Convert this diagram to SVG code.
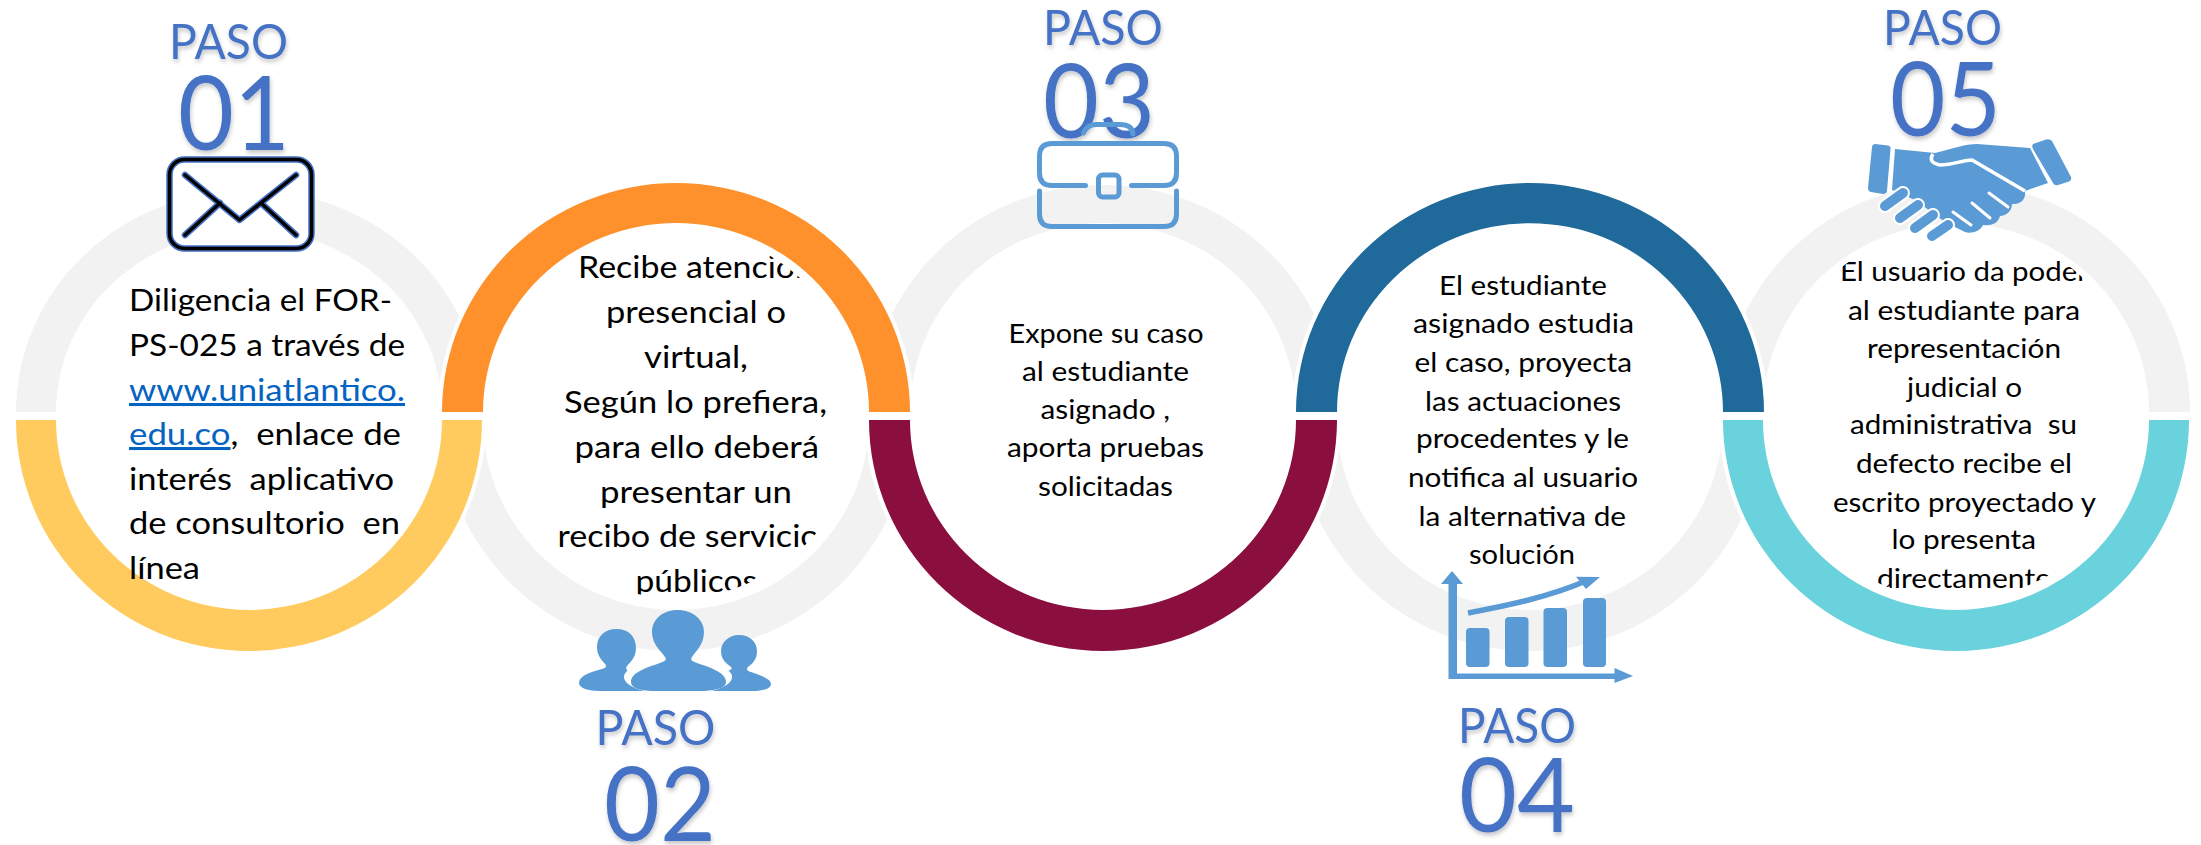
<svg xmlns="http://www.w3.org/2000/svg" width="2201" height="845" viewBox="0 0 2201 845">
<style>
text{font-family:Lato,"Liberation Sans",sans-serif;white-space:pre}
.a{font-size:30.5px;fill:#000}
.b{font-size:26.5px;fill:#000}
.link{fill:#0563C1;text-decoration:underline}
.p{font-size:49px;fill:#4472C4;filter:url(#sh)}
.n{font-size:102px;fill:#4472C4;filter:url(#sh)}
.gray{fill:#F2F2F2}
.halo{stroke:#fff;stroke-width:8;paint-order:stroke}
.ic{fill:#5B9BD5}
.icl{fill:none;stroke:#5B9BD5;stroke-linecap:round;stroke-linejoin:round;stroke-width:5}
</style>
<defs>
<filter id="sh" x="-20%" y="-20%" width="140%" height="150%"><feDropShadow dx="1" dy="3" stdDeviation="2" flood-color="#000" flood-opacity=".22"/></filter>
<clipPath id="c2"><circle cx="676" cy="414" r="184"/></clipPath>
<clipPath id="c5"><circle cx="1956" cy="414" r="186"/></clipPath>
</defs>
<rect width="2201" height="845" fill="#fff"/>
<g id="connectors">
<path class="gray" d="M16 412A233 222 0 0 1 482 412L442 412A193 182 0 0 0 56 412Z"/>
<path class="gray" d="M442 420A234 231 0 0 0 910 420L869 420A193 190 0 0 1 483 420Z"/>
<path class="gray" d="M869 412A234 227 0 0 1 1337 412L1296 412A193 189 0 0 0 910 412Z"/>
<path class="gray" d="M1296 420A234 231 0 0 0 1764 420L1723 420A193 190 0 0 1 1337 420Z"/>
<path class="gray" d="M1722 412A234 229 0 0 1 2190 412L2149 412A193 189 0 0 0 1763 412Z"/>
</g>
<g id="node-1">
<path class="halo" fill="#FFCB5E" d="M16 420A233 231 0 0 0 482 420L442 420A193 190 0 0 1 56 420Z"/>
<text class="p" x="169" y="59" textLength="119" lengthAdjust="spacingAndGlyphs">PASO</text>
<text class="n" x="178" y="150" textLength="112" lengthAdjust="spacingAndGlyphs">01</text>
<rect x="169.500" y="159.500" width="142" height="89" rx="15" fill="#fff" stroke="#4472C4" stroke-width="6.500"/>
<rect x="169.500" y="159.500" width="142" height="89" rx="15" fill="none" stroke="#000" stroke-width="3.500"/>
<path d="M185 175L239.500 220L296 175M220 203L185 235M261 203L296 235" fill="none" stroke="#4472C4" stroke-width="6.500" stroke-linecap="round" stroke-linejoin="round"/>
<path d="M185 175L239.500 220L296 175M220 203L185 235M261 203L296 235" fill="none" stroke="#000" stroke-width="3.500" stroke-linecap="round" stroke-linejoin="round"/>
<text class="a" x="129" y="311" textLength="263" lengthAdjust="spacingAndGlyphs">Diligencia el FOR-</text>
<text class="a" x="129" y="356" textLength="276" lengthAdjust="spacingAndGlyphs">PS-025 a través de</text>
<text class="a" x="129" y="401" textLength="276" lengthAdjust="spacingAndGlyphs"><tspan class="link">www.uniatlantico.</tspan></text>
<text class="a" x="129" y="445" textLength="272" lengthAdjust="spacingAndGlyphs"><tspan class="link">edu.co</tspan>,  enlace de</text>
<text class="a" x="129" y="490" textLength="265" lengthAdjust="spacingAndGlyphs">interés  aplicativo</text>
<text class="a" x="129" y="534" textLength="271" lengthAdjust="spacingAndGlyphs">de consultorio  en</text>
<text class="a" x="129" y="579" textLength="71" lengthAdjust="spacingAndGlyphs">línea</text>
</g>
<g id="node-2">
<path class="halo" fill="#FF912C" d="M442 412A234 229 0 0 1 910 412L869 412A193 189 0 0 0 483 412Z"/>
<g clip-path="url(#c2)">
<text class="a" x="578" y="278" textLength="236" lengthAdjust="spacingAndGlyphs">Recibe atención</text>
<text class="a" x="606" y="323" textLength="180" lengthAdjust="spacingAndGlyphs">presencial o</text>
<text class="a" x="644" y="368" textLength="104" lengthAdjust="spacingAndGlyphs">virtual,</text>
<text class="a" x="564" y="413" textLength="263" lengthAdjust="spacingAndGlyphs">Según lo prefiera,</text>
<text class="a" x="574.500" y="458" textLength="244.500" lengthAdjust="spacingAndGlyphs">para ello deberá</text>
<text class="a" x="600" y="503" textLength="192" lengthAdjust="spacingAndGlyphs">presentar un</text>
<text class="a" x="557.500" y="547" textLength="277" lengthAdjust="spacingAndGlyphs">recibo de servicios</text>
<text class="a" x="635.500" y="592" textLength="121.500" lengthAdjust="spacingAndGlyphs">públicos</text>
</g>
<path class="ic" d="M616.500 629C628 629 636 636 636 648C636 658 630 662 627 666C625 669 627 671 631 672L650 691L600 691C588 691 579 688 579 683C579 676 590 672 602 669C606 668 607 666 605 664C602 660 597 656 597 647C597 636 605 629 616.500 629Z"/>
<path class="ic" d="M739 635C750 635 757 642 757 651C757 660 752 664 748 667C746 669 747 671 751 672C762 676 771 679 771 684C771 689 762 691 752 691L705 691L725 672C731 670 733 669 731 667C727 664 721 660 721 651C721 642 729 635 739 635Z"/>
<ellipse cx="678" cy="677" rx="54" ry="18" fill="#fff"/>
<path class="ic" d="M677.700 610C693 610 704 620 704 632C704 645 695 652 692 657C690 660 692 661 697 663C712 668 726 673 726 682C726 689 712 691 700 691L655 691C643 691 631 689 631 682C631 673 645 668 660 663C665 661 667 660 665 657C662 652 652 645 652 632C652 620 662 610 677.700 610Z"/>
<text class="p" x="595.500" y="745" textLength="120" lengthAdjust="spacingAndGlyphs">PASO</text>
<text class="n" x="604" y="841" textLength="112" lengthAdjust="spacingAndGlyphs">02</text>
</g>
<g id="node-3">
<path class="halo" fill="#8A0E3E" d="M869 420A234 231 0 0 0 1337 420L1296 420A193 190 0 0 1 910 420Z"/>
<text class="p" x="1043" y="45" textLength="120" lengthAdjust="spacingAndGlyphs">PASO</text>
<text class="n" x="1043" y="138" textLength="112" lengthAdjust="spacingAndGlyphs">03</text>
<path class="icl" d="M1085.500 185.500L1052 185.500Q1039.500 185.500 1039.500 173L1039.500 156Q1039.500 143.500 1052 143.500L1164 143.500Q1176.500 143.500 1176.500 156L1176.500 173Q1176.500 185.500 1164 185.500L1131.500 185.500"/>
<path class="icl" d="M1039.500 191L1039.500 214Q1039.500 226.500 1052 226.500L1164 226.500Q1176.500 226.500 1176.500 214L1176.500 191"/>
<rect class="icl" x="1098.500" y="175" width="20.500" height="22" rx="4"/>
<path class="icl" d="M1083.500 133C1086 127 1090 124.500 1096 124.500L1120 124.500C1128 124.500 1132.500 128 1133 134"/>
<text class="b" x="1008.500" y="343" textLength="195" lengthAdjust="spacingAndGlyphs">Expone su caso</text>
<text class="b" x="1022" y="381" textLength="167" lengthAdjust="spacingAndGlyphs">al estudiante</text>
<text class="b" x="1040.500" y="419" textLength="129.500" lengthAdjust="spacingAndGlyphs">asignado ,</text>
<text class="b" x="1007" y="457" textLength="197" lengthAdjust="spacingAndGlyphs">aporta pruebas</text>
<text class="b" x="1038" y="496" textLength="135" lengthAdjust="spacingAndGlyphs">solicitadas</text>
</g>
<g id="node-4">
<path class="halo" fill="#1F6A9A" d="M1296 412A234 229 0 0 1 1764 412L1723 412A193 189 0 0 0 1337 412Z"/>
<text class="b" x="1439" y="295" textLength="168" lengthAdjust="spacingAndGlyphs">El estudiante</text>
<text class="b" x="1413" y="333" textLength="221" lengthAdjust="spacingAndGlyphs">asignado estudia</text>
<text class="b" x="1414.500" y="372" textLength="217.500" lengthAdjust="spacingAndGlyphs">el caso, proyecta</text>
<text class="b" x="1425" y="410.500" textLength="196" lengthAdjust="spacingAndGlyphs">las actuaciones</text>
<text class="b" x="1416" y="448" textLength="213" lengthAdjust="spacingAndGlyphs">procedentes y le</text>
<text class="b" x="1408" y="487" textLength="230" lengthAdjust="spacingAndGlyphs">notifica al usuario</text>
<text class="b" x="1418.500" y="525.500" textLength="207.500" lengthAdjust="spacingAndGlyphs">la alternativa de</text>
<text class="b" x="1469" y="564" textLength="106" lengthAdjust="spacingAndGlyphs">solución</text>
<path class="ic" d="M1452 571L1463 584L1457 584L1457 673.500L1614.500 673.500L1614.500 668L1633 676L1614.500 683L1614.500 679L1448.500 679L1448.500 584L1441 584Z"/>
<rect class="ic" x="1466" y="628" width="23.500" height="39" rx="4"/>
<rect class="ic" x="1505" y="617" width="23.500" height="50" rx="4"/>
<rect class="ic" x="1543.500" y="608" width="23.500" height="59" rx="4"/>
<rect class="ic" x="1583" y="598" width="23" height="69" rx="4"/>
<path d="M1468 613C1505 606 1550 597 1588 580" fill="none" stroke="#5B9BD5" stroke-width="5.500"/>
<path class="ic" d="M1600 577L1576 576.700L1586 589Z"/>
<text class="p" x="1458" y="743" textLength="118" lengthAdjust="spacingAndGlyphs">PASO</text>
<text class="n" x="1459" y="832" textLength="116" lengthAdjust="spacingAndGlyphs">04</text>
</g>
<g id="node-5">
<path class="halo" fill="#69D2DC" d="M1723 420A233 231 0 0 0 2189 420L2149 420A193 190 0 0 1 1763 420Z"/>
<text class="p" x="1883" y="45" textLength="119" lengthAdjust="spacingAndGlyphs">PASO</text>
<text class="n" x="1890" y="136" textLength="111" lengthAdjust="spacingAndGlyphs">05</text>
<path class="ic" d="M1875 144L1888 145.500Q1891 146 1890.500 149L1887 191Q1886.500 194 1883 194L1871 192Q1868 191.500 1868 188L1872 147Q1872.500 144 1875 144Z"/>
<path class="ic" d="M2033 144L2046 139.500Q2050 138.500 2052 141L2071 177Q2072 180 2069 181.500L2058 185Q2055 186 2053 183L2033 149Q2031.500 146 2033 144Z"/>
<path class="ic" d="M1895 149L1935 153C1955 148 1965 144 1977 144L2030 148L2048 183L2025 191C2026 198 2022 205 2012 204C2012 212 2005 216 2000 216C1998 224 1990 226 1983 225C1980 232 1970 234 1965 232L1945 222L1915 200L1892 190Z"/>
<path d="M1933 154C1930 158 1930 163 1940 165C1953 165 1963 160 1972 160L2025 191" fill="none" stroke="#fff" stroke-width="3.500"/>
<path d="M1989 193L2008 207M1972 203L1990 218M1953 212L1971 225" fill="none" stroke="#fff" stroke-width="3" stroke-linecap="round"/>
<path d="M1885 206L1903 193M1900 218L1918 205M1915 228L1933 215M1932 236L1948 225" fill="none" stroke="#fff" stroke-width="14" stroke-linecap="round"/>
<path d="M1885 206L1903 193M1900 218L1918 205M1915 228L1933 215M1932 236L1948 225" fill="none" stroke="#5B9BD5" stroke-width="10" stroke-linecap="round"/>
<g clip-path="url(#c5)">
<text class="b" x="1840" y="281" textLength="248" lengthAdjust="spacingAndGlyphs">El usuario da poder</text>
<text class="b" x="1848" y="320" textLength="232" lengthAdjust="spacingAndGlyphs">al estudiante para</text>
<text class="b" x="1867" y="358" textLength="194" lengthAdjust="spacingAndGlyphs">representación</text>
<text class="b" x="1907" y="397" textLength="115" lengthAdjust="spacingAndGlyphs">judicial o</text>
<text class="b" x="1850" y="434" textLength="227" lengthAdjust="spacingAndGlyphs">administrativa  su</text>
<text class="b" x="1856" y="473" textLength="216" lengthAdjust="spacingAndGlyphs">defecto recibe el</text>
<text class="b" x="1833" y="511.500" textLength="263" lengthAdjust="spacingAndGlyphs">escrito proyectado y</text>
<text class="b" x="1891.500" y="549" textLength="144.500" lengthAdjust="spacingAndGlyphs">lo presenta</text>
<text class="b" x="1877" y="588" textLength="174" lengthAdjust="spacingAndGlyphs">directamente</text>
</g>
</g>
</svg>
